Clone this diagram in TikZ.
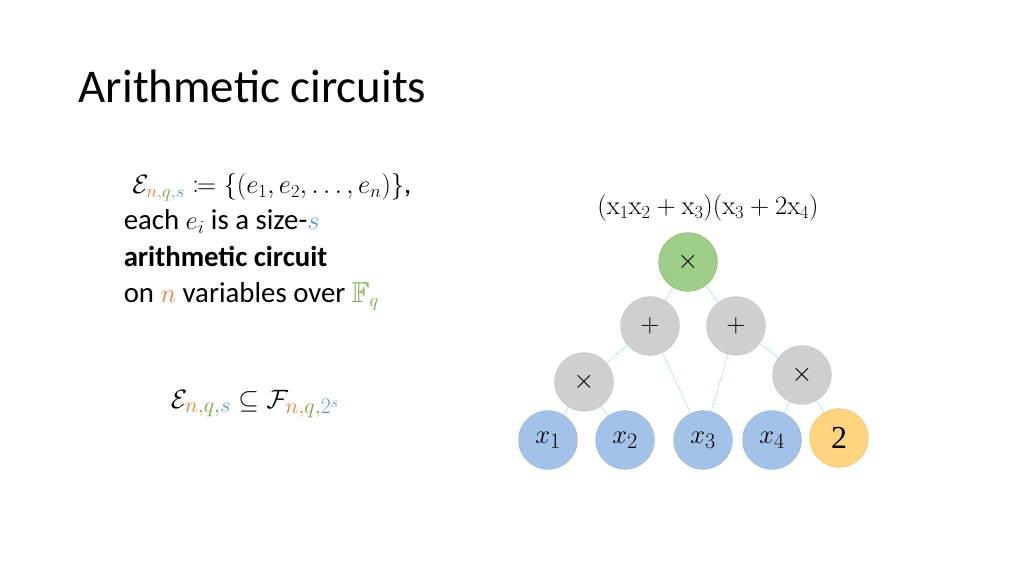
\documentclass[tikz,border=0pt]{standalone}
\usepackage{amsmath,amssymb,mathtools}
\usepackage{fontspec}
\setmainfont{Carlito}
\setmathrm{Latin Modern Roman}
\begin{document}
\begin{tikzpicture}[x=0.9375pt,y=-0.9375pt,
  gate/.style={circle,minimum size=55pt,inner sep=0pt,font=\fontsize{30}{32}\selectfont},
  op/.style={gate,fill=gray!38,draw=gray!50},
  wire/.style={draw=blue!30!cyan!40!white,line width=0.5pt}]
\definecolor{cn}{HTML}{ED7D31}\definecolor{cq}{HTML}{70AD47}\definecolor{cs}{HTML}{5B9BD5}
\definecolor{leaf}{HTML}{A4C2E8}\definecolor{two}{HTML}{FFD480}\definecolor{rootc}{HTML}{9FCD8A}
\useasboundingbox (0,0) rectangle (1024,576);
\node[anchor=west,font=\fontsize{44}{48}\selectfont] (title) at (75,86) {Arithmetic circuits};
\node[anchor=north west,align=left,font=\fontsize{27}{34}\selectfont] (text) at (120,170)
 {\hspace*{0.3em}$\mathcal{E}_{\color{cn}n,\color{cq}q,\color{cs}s}\coloneqq\{(e_1,e_2,\dots,e_n)\}$,\\
  each $e_i$ is a size-$\color{cs}s$\\
  \textbf{arithmetic circuit}\\
  on $\color{cn}n$ variables over $\color{cq}\mathbb{F}_q$};
\node[font=\fontsize{28}{30}\selectfont] (incl) at (255,404)
 {$\mathcal{E}_{\color{cn}n,\color{cq}q,\color{cs}s}\subseteq\mathcal{F}_{\color{cn}n,\color{cq}q,\color{cs}2^s}$};
\node[font=\fontsize{25}{28}\selectfont] (poly) at (708,208) {$(\mathrm{x}_1\mathrm{x}_2+\mathrm{x}_3)(\mathrm{x}_3+2\mathrm{x}_4)$};
\node[gate,fill=rootc,draw=rootc!85!black] (r) at (688,262) {$\times$};
\node[op] (pl) at (650,326) {$+$};
\node[op] (pr) at (736,326) {$+$};
\node[op] (ml) at (584,382) {$\times$};
\node[op] (mr) at (802,375) {$\times$};
\node[gate,fill=leaf,draw=leaf!90!black] (x1) at (548,440) {$x_1$};
\node[gate,fill=leaf,draw=leaf!90!black] (x2) at (625,440) {$x_2$};
\node[gate,fill=leaf,draw=leaf!90!black] (x3) at (703,440) {$x_3$};
\node[gate,fill=leaf,draw=leaf!90!black] (x4) at (772,440) {$x_4$};
\node[gate,fill=two,draw=two!90!black] (c2) at (839,438) {\fontspec{Liberation Serif}2};
\foreach \a/\b in {r/pl,r/pr,pl/ml,pl/x3,pr/x3,pr/mr,ml/x1,ml/x2,mr/x4,mr/c2}
  \draw[wire] (\a) -- (\b);
\end{tikzpicture}
\end{document}
